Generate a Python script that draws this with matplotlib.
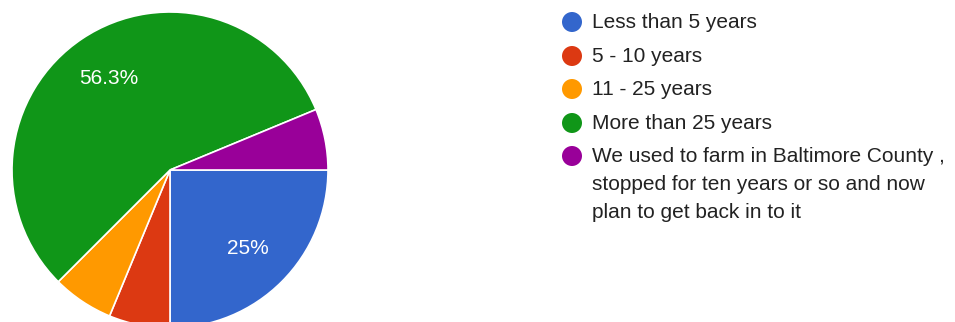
import math
import matplotlib
matplotlib.use("Agg")
import matplotlib.pyplot as plt
from matplotlib.patches import Circle

categories = [
    "Less than 5 years",
    "5 - 10 years",
    "11 - 25 years",
    "More than 25 years",
    "We used to farm in Baltimore County ,\nstopped for ten years or so and now\nplan to get back in to it",
]
counts = [4, 1, 1, 9, 1]
colors = ["#3366cc", "#dc3912", "#ff9900", "#109618", "#990099"]

W, H = 955, 322
fig = plt.figure(figsize=(W / 100, H / 100), dpi=100)
ax = fig.add_axes([0, 0, 1, 1])

FAM = ["Liberation Sans", "DejaVu Sans"]
plt.rcParams["font.family"] = FAM


def fmt(p):
    if p < 10:
        return ""
    v = math.floor(p * 10 + 0.5 + 1e-4) / 10
    return f"{v:g}%"


cx, cy, r = 170, H - 170, 158
wedges, texts, autotexts = ax.pie(
    counts, colors=colors, startangle=0, counterclock=False,
    center=(cx, cy), radius=r, autopct=fmt, pctdistance=0.70,
    wedgeprops=dict(edgecolor="white", linewidth=1.2),
    textprops=dict(color="white", fontsize=15, family=FAM),
    frame=True,
)
ax.set_xlim(0, W)
ax.set_ylim(0, H)
ax.set_aspect("equal")
ax.axis("off")

# legend
leg_y = [22, 56, 89, 123, 156]
for lab, col, y in zip(categories, colors, leg_y):
    ax.add_patch(Circle((572, H - y), 10, color=col, lw=0))
    for i, line in enumerate(lab.split("\n")):
        ax.text(592, H - (y + i * 28), line, va="center", ha="left",
                fontsize=15, color="#222222", family=FAM)

fig.savefig("out.png", dpi=100)
